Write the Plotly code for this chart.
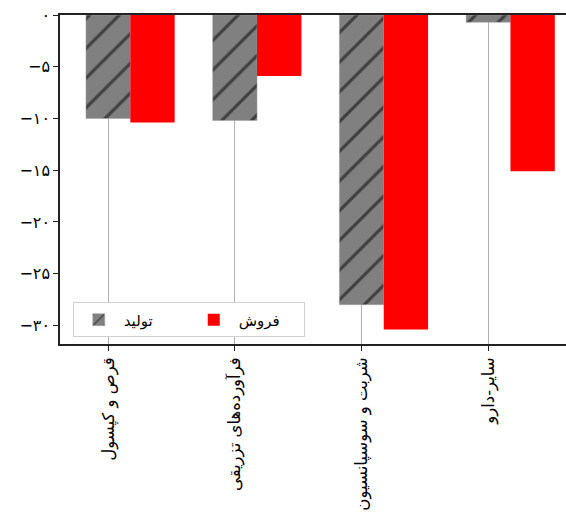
import plotly.graph_objects as go

categories = ["قرص و کپسول", "فرآورده‌های تزریقی", "شربت و سوسپانسیون", "سایر-دارو"]
tolid = [-10.0, -10.2, -28.0, -0.7]
forush = [-10.4, -5.9, -30.4, -15.1]
y_tickvals = [0, -5, -10, -15, -20, -25, -30]
y_ticktext = ["۰", "−۵", "−۱۰", "−۱۵", "−۲۰", "−۲۵", "−۳۰"]

FONT = "DejaVu Sans"
xs = list(range(len(categories)))
w = 0.35

fig = go.Figure()
fig.add_bar(
    x=xs, y=tolid, name="تولید", width=w, offset=-w / 2,
    marker=dict(color="#808080", line=dict(color="#a0a0a0", width=0.5),
                pattern=dict(shape="/", fgcolor="black", size=21, solidity=0.15)),
)
fig.add_bar(
    x=xs, y=forush, name="فروش", width=w, offset=w / 2,
    marker=dict(color="#ff0000", line=dict(width=0)),
)

fig.update_layout(
    width=570, height=514,
    margin=dict(l=60, r=0, t=15, b=170),
    barmode="overlay",
    plot_bgcolor="white", paper_bgcolor="white",
    font=dict(family=FONT, color="black", size=15),
    legend=dict(
        orientation="h", x=0.025, y=0.02, xanchor="left", yanchor="bottom",
        bgcolor="white", bordercolor="#d0d0d0", borderwidth=1,
        font=dict(size=15, family=FONT), itemwidth=40,
        entrywidth=60, tracegroupgap=0,
    ),
)
fig.update_xaxes(
    range=[-0.38, 3.645], tickvals=xs, ticktext=categories, tickangle=-90,
    showgrid=True, gridcolor="#b0b0b0", gridwidth=1.2,
    showline=True, linecolor="#222222", linewidth=1.5, mirror=True,
    ticks="outside", ticklen=5, tickcolor="#222222", automargin=False,
    layer="above traces", tickfont=dict(size=16.5, family=FONT),
)
fig.update_yaxes(
    range=[-31.8, 0], tickvals=y_tickvals, ticktext=y_ticktext,
    showgrid=False, zeroline=False, automargin=False,
    showline=True, linecolor="#222222", linewidth=1.5, mirror=True,
    ticks="outside", ticklen=5, tickcolor="#222222",
    tickfont=dict(size=16, family=FONT),
)

fig.write_html(
    "out.html",
    config={"displayModeBar": False},
    post_script="document.body.style.margin='0';document.body.style.overflow='hidden';",
)
